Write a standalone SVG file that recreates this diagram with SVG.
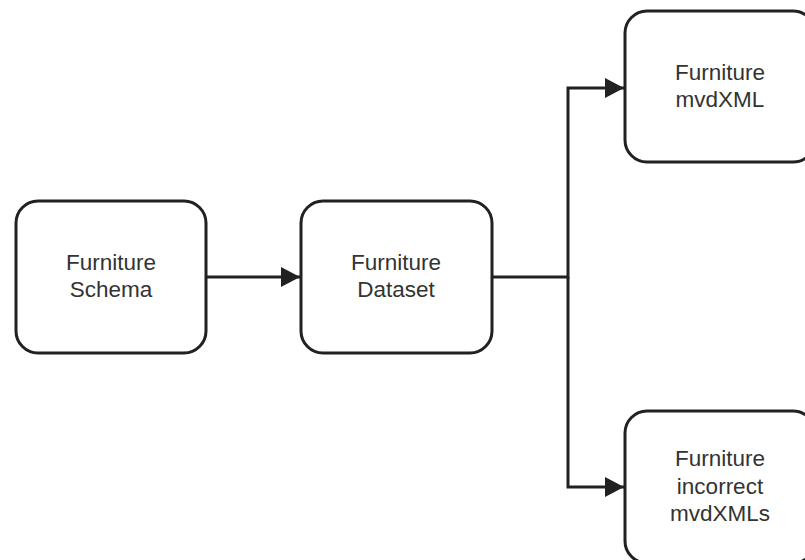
<svg xmlns="http://www.w3.org/2000/svg" width="805" height="560" viewBox="0 0 805 560">
  <style>
    .box { fill: #ffffff; stroke: #212121; stroke-width: 3; }
    .lbl { font-family: "Liberation Sans", Arial, sans-serif; font-size: 22.5px; fill: #333333; text-anchor: middle; }
    .edge { fill: none; stroke: #212121; stroke-width: 3; }
  </style>
  <defs>
    <marker id="arrow" viewBox="0 0 19 20" refX="19" refY="10" markerWidth="19" markerHeight="20" markerUnits="userSpaceOnUse" orient="auto">
      <path d="M0,0 L19,10 L0,20 Z" fill="#212121"/>
    </marker>
  </defs>
  <rect width="805" height="560" fill="#ffffff"/>

  <g id="connectors">
    <path class="edge" d="M206,277 L300,277" marker-end="url(#arrow)"/>
    <path class="edge" d="M492,277 L568,277 L568,88 L624,88" marker-end="url(#arrow)"/>
    <path class="edge" d="M568,277 L568,487 L624,487" marker-end="url(#arrow)"/>
  </g>

  <g id="furniture-schema">
    <rect class="box" x="16" y="201" width="190" height="152" rx="22"/>
    <text class="lbl" x="111" y="270">Furniture</text>
    <text class="lbl" x="111" y="297">Schema</text>
  </g>

  <g id="furniture-dataset">
    <rect class="box" x="301" y="201" width="191" height="152" rx="22"/>
    <text class="lbl" x="396" y="270">Furniture</text>
    <text class="lbl" x="396" y="297">Dataset</text>
  </g>

  <g id="furniture-mvdxml">
    <rect class="box" x="625" y="11" width="190" height="151" rx="22"/>
    <text class="lbl" x="720" y="80">Furniture</text>
    <text class="lbl" x="720" y="107">mvdXML</text>
  </g>

  <g id="furniture-incorrect-mvdxmls">
    <rect class="box" x="625" y="411" width="190" height="152" rx="22"/>
    <text class="lbl" x="720" y="466">Furniture</text>
    <text class="lbl" x="720" y="494">incorrect</text>
    <text class="lbl" x="720" y="521">mvdXMLs</text>
  </g>
</svg>
